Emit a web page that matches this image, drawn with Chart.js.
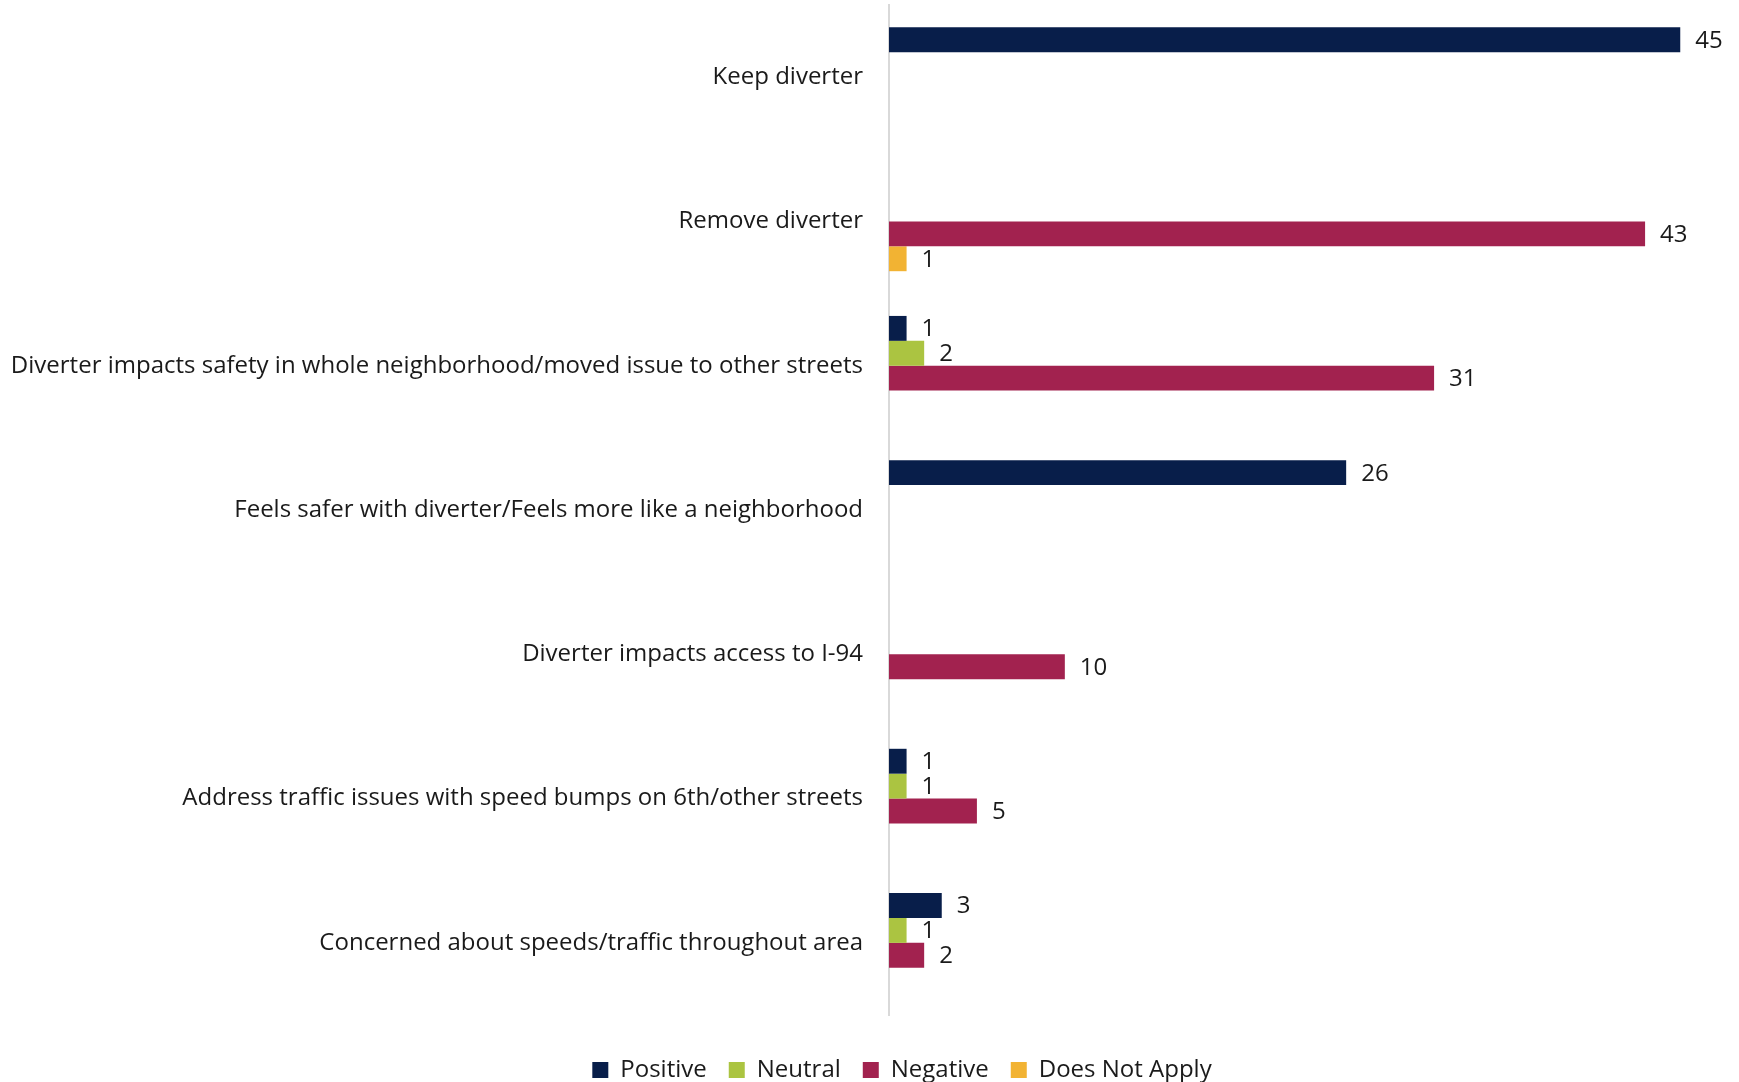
<!DOCTYPE html>
<html>
<head>
<meta charset="utf-8">
<script src="https://cdn.jsdelivr.net/npm/chart.js@4/dist/chart.umd.min.js"></script>
<style>
  body { margin: 0; background: #fff; }
</style>
</head>
<body>
<canvas id="chart" width="1739" height="1082"></canvas>
<script>
const categories = [
  "Keep diverter",
  "Remove diverter",
  "Diverter impacts safety in whole neighborhood/moved issue to other streets",
  "Feels safer with diverter/Feels more like a neighborhood",
  "Diverter impacts access to I-94",
  "Address traffic issues with speed bumps on 6th/other streets",
  "Concerned about speeds/traffic throughout area"
];
const positive = [45, 0, 1, 26, 0, 1, 3];
const neutral = [0, 0, 2, 0, 0, 1, 1];
const negative = [0, 43, 31, 0, 10, 5, 2];
const doesNotApply = [0, 1, 0, 0, 0, 0, 0];

const FONT = "'Open Sans', 'Noto Sans', sans-serif";

// value labels right of each bar (skip zeros)
const valueLabels = {
  id: "valueLabels",
  afterLayout(chart) {
    // nudge the legend lower and a bit right, like the original
    const lg = chart.legend;
    lg.top += 21;
    lg.bottom += 21;
    lg.left += 30;
    lg.right += 30;
  },
  afterDatasetsDraw(chart) {
    const ctx = chart.ctx;
    ctx.save();
    ctx.font = "24px " + FONT;
    ctx.fillStyle = "#1a1a1a";
    ctx.textBaseline = "middle";
    ctx.textAlign = "left";
    chart.data.datasets.forEach((ds, i) => {
      chart.getDatasetMeta(i).data.forEach((bar, j) => {
        const v = ds.data[j];
        if (!v) return;
        ctx.fillText(v, bar.x + 15, bar.y + 1);
      });
    });
    ctx.restore();
  }
};

const ctx = document.getElementById("chart").getContext("2d");
const myChart = new Chart(ctx, {
  type: "bar",
  data: {
    labels: categories,
    datasets: [
      { label: "Positive", data: positive, backgroundColor: "#081e4a" },
      { label: "Neutral", data: neutral, backgroundColor: "#abc441" },
      { label: "Negative", data: negative, backgroundColor: "#a2224f" },
      { label: "Does Not Apply", data: doesNotApply, backgroundColor: "#f2b333" },
    ],
  },
  options: {
    indexAxis: "y",
    responsive: false,
    animation: false,
    devicePixelRatio: 1,
    layout: { padding: { top: 5, right: 6, left: 11, bottom: 11 } },
    datasets: {
      bar: { barPercentage: 1, categoryPercentage: 0.69 },
    },
    scales: {
      x: { display: false, min: 0, max: 48 },
      y: {
        afterFit(scale) {
          scale.width = 878;
          scale.paddingTop = 0;
          scale.paddingBottom = 0;
        },
        grid: { display: false, drawTicks: false },
        border: { display: true, color: "#d9d9d9", width: 2 },
        ticks: { padding: 26, color: "#1a1a1a", font: { family: FONT, size: 24 } },
      },
    },
    plugins: {
      tooltip: { enabled: false },
      legend: {
        position: "bottom",
        labels: {
          boxWidth: 16,
          boxHeight: 16,
          padding: 22,
          color: "#1a1a1a",
          font: { family: FONT, size: 24 },
        },
      },
    },
  },
  plugins: [valueLabels],
});
</script>
</body>
</html>
